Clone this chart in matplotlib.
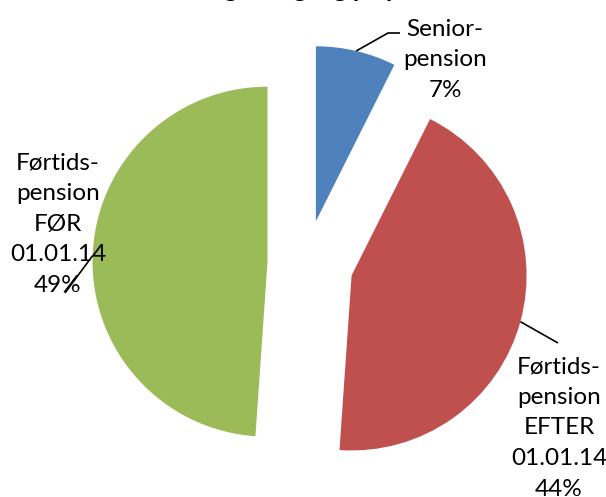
import numpy as np
import matplotlib
matplotlib.use("Agg")
import matplotlib.pyplot as plt

plt.rcParams['font.family'] = ['Lato', 'DejaVu Sans']

# data
labels = ["Senior-\npension", "Førtids-\npension\nEFTER\n01.01.14", "Førtids-\npension\nFØR\n01.01.14"]
shares = [7.4, 43.7, 48.9]
colors = ["#4F81BD", "#C0504D", "#9BBB59"]
title = "Fordeling af tilgang på pension"

W, H = 606, 497
fig = plt.figure(figsize=(W / 100, H / 100), dpi=100)
ax = fig.add_axes([0, 0, 1, 1])

R = 175
explode = [0.245 * R, 0.27 * R, 0.22 * R]
wedges, _ = ax.pie(shares, colors=colors, startangle=90, counterclock=False,
                   explode=explode, radius=R, center=(306, H - 263),
                   wedgeprops=dict(linewidth=0), frame=True)
ax.set_xlim(0, W)
ax.set_ylim(0, H)
ax.set_aspect("equal")
ax.axis("off")

pct = [round(100 * s / sum(shares)) for s in shares]

# label centres and leader-line ends (pixel positions, y from top)
label_pos = [(445, 60), (559, 428), (58, 224)]
line_end = [[(388, 33), (400, 33)], [(558, 343)], [(65, 293)]]

for w, lab, p, (lx, ly), ends in zip(wedges, labels, pct, label_pos, line_end):
    thm = np.deg2rad((w.theta1 + w.theta2) / 2)
    cx, cy = w.center
    px, py = cx + w.r * np.cos(thm), cy + w.r * np.sin(thm)
    xs = [px] + [e[0] for e in ends]
    ys = [py] + [H - e[1] for e in ends]
    ax.plot(xs, ys, color="black", lw=1.2, solid_capstyle="butt")
    ax.text(lx, H - ly, f"{lab}\n{p}%", ha="center", va="center",
            fontsize=17.5, linespacing=1.57, color="black")

fig.text(0.5, 1 + 3 / H, title, ha="center", va="baseline",
         fontsize=18, fontweight="bold")

fig.savefig("out.png", dpi=100)
